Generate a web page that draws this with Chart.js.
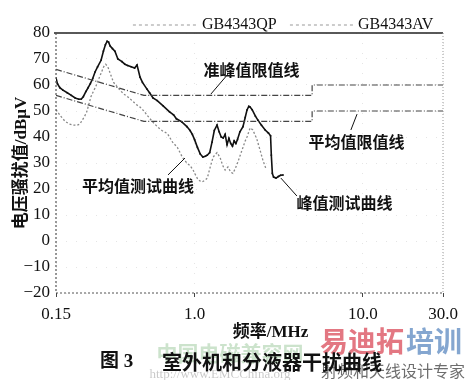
<!DOCTYPE html>
<html><head><meta charset="utf-8">
<script src="https://cdn.jsdelivr.net/npm/chart.js@4.4.1/dist/chart.umd.min.js"></script>
<style>html,body{margin:0;padding:0;background:#fff}canvas{display:block}</style>
</head><body>
<canvas id="c" width="472" height="380"></canvas>
<script>
// ---------- data ----------
const xTickValues = [0.15, 1, 10, 30];
const xTickLabels = ['0.15', '1.0', '10.0', '30.0'];
const yTickLabels = ['−20', '−10', '0', '10', '20', '30', '40', '50', '60', '70', '80'];

// GB4343 quasi-peak limit (MHz, dBμV)
const qpFreq  = [0.15, 0.5, 5, 5, 30];
const qpLimit = [66, 56, 56, 60, 60];
// GB4343 average limit
const avFreq  = [0.15, 0.5, 5, 5, 30];
const avLimit = [56, 46, 46, 50, 50];

// peak measurement curve
const peakFreq = [0.15,0.153,0.158,0.165,0.175,0.185,0.195,0.205,0.212,0.218,0.226,0.233,0.24,0.248,0.256,0.265,0.278,0.287,0.295,0.302,0.308,0.315,0.325,0.336,0.35,0.37,0.385,0.40,0.42,0.44,0.455,0.474,0.49,0.52,0.54,0.566,0.6,0.65,0.71,0.75,0.78,0.84,0.9,0.94,0.97,1.0,1.04,1.08,1.12,1.16,1.19,1.23,1.27,1.31,1.36,1.4,1.44,1.48,1.52,1.56,1.6,1.64,1.68,1.72,1.76,1.8,1.86,1.94,2.0,2.05,2.1,2.14,2.2,2.3,2.38,2.5,2.63,2.75,2.83,2.86,2.9,2.95,3.05,3.15,3.25,3.36];
const peakValues = [62.7,60.5,59,58,57,56,55,54.5,54.6,55.5,57.5,59,60.5,62.5,65,67,69.5,73,75.5,76.8,76.5,75,74,73,70,69,68,67.5,67,66.5,67.7,63,61,58.5,57,55,54,52,49.7,48.5,47,45.8,44,42.5,41,39,36,33.5,32.3,32.6,33,34,38,42.5,44.6,42,40,39.6,41,37,39.5,37.5,36.5,38.5,37.5,39,42,44,47.5,50.4,51.8,51.5,50.5,48,46.5,44.5,42.7,41.5,40.5,33,26,24.6,24.2,24.8,25.3,25.4];

// average measurement curve
const avgFreq = [0.15,0.16,0.17,0.18,0.19,0.2,0.208,0.215,0.222,0.228,0.235,0.242,0.25,0.259,0.268,0.278,0.288,0.296,0.305,0.315,0.33,0.345,0.36,0.38,0.40,0.425,0.45,0.474,0.5,0.52,0.56,0.6,0.64,0.69,0.74,0.79,0.85,0.9,0.94,0.98,1.02,1.05,1.11,1.16,1.19,1.24,1.29,1.36,1.42,1.47,1.52,1.58,1.64,1.69,1.75,1.81,1.88,1.94,2.0,2.05,2.14,2.22,2.3,2.35,2.45,2.55,2.65];
const avgValues = [50.5,48,46,45,44.6,44.5,45,46.5,48,49.5,52.5,55.5,57.5,59.5,62,64.5,67,68,67,64.5,61,59.5,58,56.5,55.5,54,52.5,51.5,50,48.5,46,44,42.5,41.3,38,36,32,30,29,27.3,25,23.5,22.7,23.5,24.2,28.5,32.3,34,32,29,27.3,28.5,26.5,26,28,30.4,33.5,36,38.5,40,43.5,42.7,40.5,39,35,31,28];

// ---------- text / annotation config (positions in data units) ----------
const legendEntries = [
  {text: 'GB4343QP', lineFrom: 0.43, lineTo: 1.05, textAt: 1.107},
  {text: 'GB4343AV', lineFrom: 3.69, lineTo: 8.75, textAt: 9.37}
];
const callouts = [
  {text: '准峰值限值线',   at: [2.18, 65.8], leader: [[1.58, 64.2], [1.25, 56.5]]},
  {text: '平均值限值线',   at: [9.18, 38.1], leader: [[9.25, 48.8], [8.5, 42.7]]},
  {text: '平均值测试曲线', at: [0.461, 21.2], leader: [[0.695, 25.4], [0.877, 31.9]]},
  {text: '峰值测试曲线',   at: [7.79, 14.6], leader: [[3.26, 24.2], [4.06, 17.3]]}
];
const yTitle = '电压骚扰值/dBμV';
const xTitle = '频率/MHz';
const captionNum = '图 3';
const captionText = '室外机和分液器干扰曲线';

const pts = (fx, fy) => fx.map((f, i) => ({x: f, y: fy[i]}));

const SERIF = '"Liberation Serif", "Times New Roman", serif';
const CJK = '"Noto Sans CJK SC", "Noto Sans CJK JP", sans-serif';

const decor = {
  id: 'decor',
  afterDatasetsDraw(chart) {
    const {ctx, chartArea: a, scales: {x, y}} = chart;
    ctx.save();
    // frame
    ctx.lineCap = 'butt';
    ctx.strokeStyle = '#222'; ctx.lineWidth = 1.6; ctx.setLineDash([]);
    ctx.beginPath(); ctx.moveTo(a.left - 2, a.top); ctx.lineTo(a.right, a.top); ctx.stroke();
    ctx.lineWidth = 1.2; ctx.strokeStyle = '#555'; ctx.setLineDash([2, 2]);
    ctx.beginPath(); ctx.moveTo(a.left, a.top); ctx.lineTo(a.left, a.bottom); ctx.stroke();
    ctx.beginPath(); ctx.moveTo(a.left, a.bottom); ctx.lineTo(a.right, a.bottom); ctx.stroke();
    ctx.strokeStyle = '#999'; ctx.lineWidth = 1; ctx.setLineDash([1, 2]);
    ctx.beginPath(); ctx.moveTo(a.right, a.top); ctx.lineTo(a.right, a.bottom); ctx.stroke();

    // legend
    ctx.setLineDash([3, 3]); ctx.strokeStyle = '#999'; ctx.lineWidth = 1;
    ctx.fillStyle = '#111'; ctx.font = '16px ' + SERIF; ctx.textBaseline = 'middle'; ctx.textAlign = 'left';
    const ly = a.top - 8;
    legendEntries.forEach(e => {
      ctx.beginPath(); ctx.moveTo(x.getPixelForValue(e.lineFrom), ly); ctx.lineTo(x.getPixelForValue(e.lineTo), ly); ctx.stroke();
      ctx.fillText(e.text, x.getPixelForValue(e.textAt), ly);
    });

    // callouts
    ctx.setLineDash([]); ctx.strokeStyle = '#111'; ctx.lineWidth = 1;
    ctx.font = 'bold 16px ' + CJK; ctx.textAlign = 'center';
    callouts.forEach(c => {
      ctx.beginPath();
      ctx.moveTo(x.getPixelForValue(c.leader[0][0]), y.getPixelForValue(c.leader[0][1]));
      ctx.lineTo(x.getPixelForValue(c.leader[1][0]), y.getPixelForValue(c.leader[1][1]));
      ctx.stroke();
      ctx.fillText(c.text, x.getPixelForValue(c.at[0]), y.getPixelForValue(c.at[1]));
    });

    // axis titles
    ctx.font = 'bold 17px ' + SERIF + ', ' + CJK;
    ctx.fillText(xTitle, (a.left + a.right) / 2 + 21, a.bottom + 40);
    ctx.save();
    ctx.translate(22, (a.top + a.bottom) / 2);
    ctx.rotate(-Math.PI / 2);
    ctx.font = 'bold 17px ' + SERIF + ', ' + CJK;
    ctx.fillText(yTitle, 0, 0);
    ctx.restore();

    // watermarks (faint)
    ctx.textAlign = 'center';
    ctx.font = 'bold 21px ' + CJK; ctx.fillStyle = 'rgba(110,175,110,0.35)';
    ctx.fillText('中国电磁兼容网', 230, 353);
    ctx.font = '13px ' + SERIF; ctx.fillStyle = 'rgba(0,0,0,0.22)';
    ctx.fillText('http://www.EMCChina.org', 220, 375);
    ctx.textAlign = 'right';
    ctx.font = '16px ' + CJK; ctx.fillStyle = 'rgba(60,60,60,0.75)';
    ctx.fillText('射频和天线设计专家', 465, 371);
    ctx.textAlign = 'left';
    ctx.font = 'bold 28px ' + CJK;
    ctx.fillStyle = 'rgba(222,95,108,0.85)';
    ctx.fillText('易迪拓', 320, 341);
    ctx.fillStyle = 'rgba(110,150,200,0.85)';
    ctx.fillText('培训', 406, 341);

    // caption
    ctx.fillStyle = '#111';
    ctx.font = 'bold 19px ' + SERIF + ', ' + CJK;
    ctx.fillText(captionNum, 100, 362);
    ctx.font = 'bold 20px ' + CJK;
    ctx.fillText(captionText, 162, 362);
    ctx.restore();
  }
};

new Chart(document.getElementById('c'), {
  type: 'line',
  data: {
    datasets: [
      {label: 'GB4343QP', data: pts(qpFreq, qpLimit), borderColor: '#444', borderWidth: 1.2, borderDash: [6, 2, 1, 2], pointRadius: 0, fill: false},
      {label: 'GB4343AV', data: pts(avFreq, avLimit), borderColor: '#444', borderWidth: 1.2, borderDash: [6, 2, 1, 2], pointRadius: 0, fill: false},
      {label: '平均值测试曲线', data: pts(avgFreq, avgValues), borderColor: '#888', borderWidth: 1.3, borderDash: [2, 2], pointRadius: 0, fill: false},
      {label: '峰值测试曲线', data: pts(peakFreq, peakValues), borderColor: '#111', borderWidth: 1.6,
       pointRadius: 1.1, pointStyle: 'rect', pointBackgroundColor: '#111', pointBorderColor: '#111', pointBorderWidth: 0, fill: false}
    ]
  },
  options: {
    responsive: false,
    animation: false,
    devicePixelRatio: 1,
    layout: {padding: {top: 33, right: 29, left: 0, bottom: 0}},
    plugins: {legend: {display: false}, tooltip: {enabled: false}, title: {display: false}},
    scales: {
      x: {
        type: 'logarithmic', min: 0.15, max: 30,
        afterBuildTicks: s => { s.ticks = xTickValues.map(v => ({value: v})); },
        afterFit: s => { s.height = 87; },
        ticks: {autoSkip: false, maxRotation: 0, padding: 7, color: '#111',
                font: {family: SERIF, size: 17},
                callback: (v, i) => xTickLabels[i]},
        grid: {color: 'rgba(0,0,0,0.10)', drawTicks: true, tickLength: 4, tickColor: '#444'},
        border: {display: false, dash: [1, 9]}
      },
      y: {
        min: -20, max: 80,
        ticks: {stepSize: 10, padding: 6, color: '#111', font: {family: SERIF, size: 17},
                callback: (v, i) => yTickLabels[i]},
        afterFit: s => { s.width = 56; },
        grid: {color: 'rgba(0,0,0,0.10)', drawTicks: false},
        border: {display: false, dash: [1, 9]}
      }
    }
  },
  plugins: [decor]
});
</script>
</body></html>
